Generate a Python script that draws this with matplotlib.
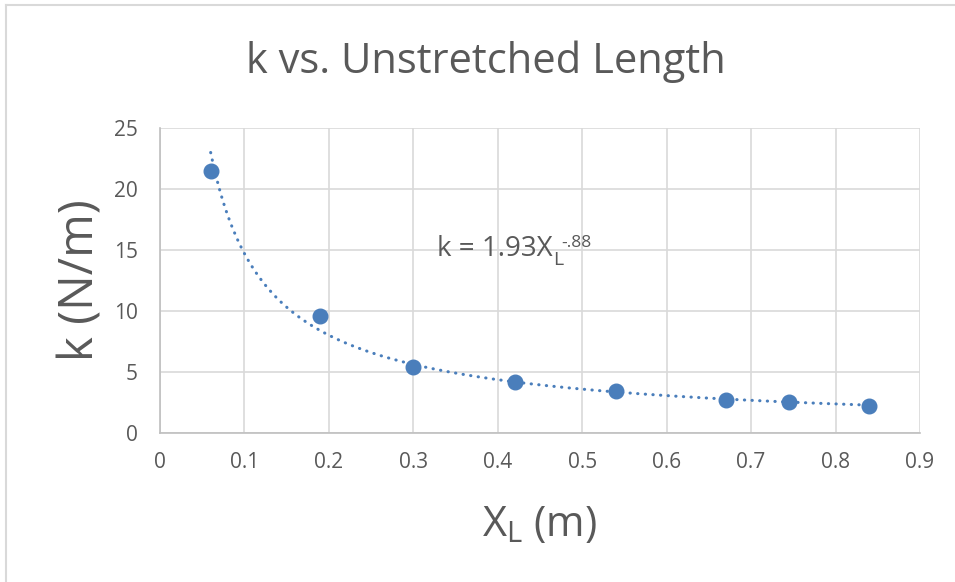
import numpy as np
import matplotlib
matplotlib.use('Agg')
import matplotlib.pyplot as plt
from matplotlib.lines import Line2D

matplotlib.rcParams['font.family'] = ['Open Sans', 'DejaVu Sans']
matplotlib.rcParams['mathtext.default'] = 'regular'

# data
x_len = [0.06, 0.19, 0.30, 0.42, 0.54, 0.67, 0.745, 0.84]
k_vals = [21.5, 9.6, 5.45, 4.22, 3.45, 2.68, 2.52, 2.22]
x_ticks = [0, 0.1, 0.2, 0.3, 0.4, 0.5, 0.6, 0.7, 0.8, 0.9]
y_ticks = [0, 5, 10, 15, 20, 25]

blue = '#4a7ebb'
grey_txt = '#595959'
grid_c = '#d9d9d9'

fig = plt.figure(figsize=(9.55, 5.82), dpi=100)
ax = fig.add_axes([160/955, 149/582, 760/955, 305/582])

# power-law trendline fitted to the points
b, log_a = np.polyfit(np.log(x_len), np.log(k_vals), 1)
xf = np.linspace(min(x_len), max(x_len), 300)
ax.plot(xf, np.exp(log_a) * xf**b, color=blue, lw=2.2,
        linestyle=(0, (0.1, 2.4)), dash_capstyle='round', zorder=3)
ax.plot(x_len, k_vals, 'o', color=blue, ms=10.5, zorder=4)

ax.set_xlim(0, 0.9)
ax.set_ylim(0, 25)
ax.set_xticks(x_ticks)
ax.set_xticklabels([str(t) for t in x_ticks])
ax.set_yticks(y_ticks)
ax.grid(True, color=grid_c, lw=1.2)
ax.set_axisbelow(True)
for s in ['top', 'right']:
    ax.spines[s].set_visible(False)
for s in ['left', 'bottom']:
    ax.spines[s].set_color('#bfbfbf')
    ax.spines[s].set_linewidth(1.2)
ax.tick_params(axis='both', length=0, labelsize=15, colors=grey_txt)
ax.tick_params(axis='x', pad=14)
ax.tick_params(axis='y', pad=16)

fig.text(486/955, 1 - 62/582, 'k vs. Unstretched Length', ha='center', va='center',
         fontsize=30, color=grey_txt)
ax.set_xlabel(r'$X_L$ (m)', fontsize=30, color=grey_txt, labelpad=22)
ax.set_ylabel('k (N/m)', fontsize=34, color=grey_txt, labelpad=7)

# trendline equation
eq = ax.text(0.328, 14.5, 'k = 1.93X', fontsize=20, color=grey_txt, va='baseline')
ax.annotate('L', xy=(1, 13.75), xycoords=(eq, 'data'), xytext=(0.5, 0),
            textcoords='offset points', fontsize=14, color=grey_txt, va='baseline')
ax.annotate('-.88', xy=(1, 15.25), xycoords=(eq, 'data'), xytext=(6.5, 0),
            textcoords='offset points', fontsize=12.5, color=grey_txt, va='baseline')

# chart frame
fig.add_artist(Line2D([6/955, 6/955], [0, 1 - 5/582], color=grid_c, lw=1.5))
fig.add_artist(Line2D([6/955, 1], [1 - 5/582, 1 - 5/582], color=grid_c, lw=1.5))

fig.savefig('out.png', dpi=100)
